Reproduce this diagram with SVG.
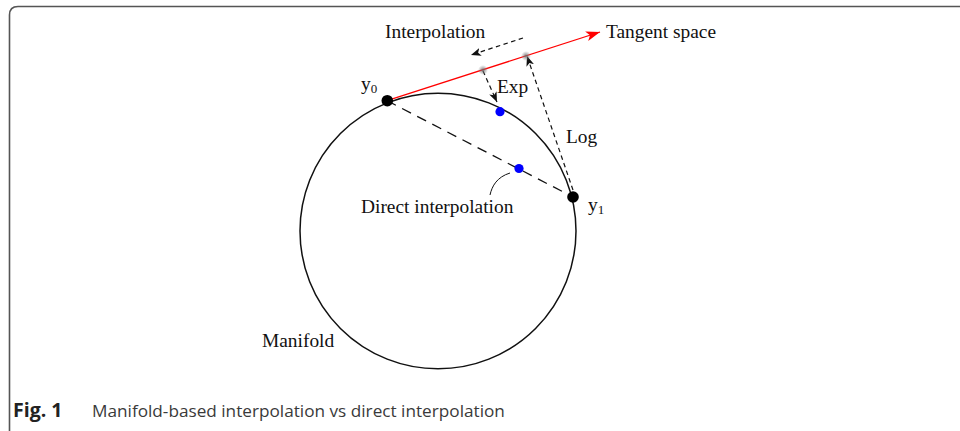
<svg xmlns="http://www.w3.org/2000/svg" width="960" height="431" viewBox="0 0 960 431">
<defs>
<style>
.lbl{font-family:"Liberation Serif","DejaVu Serif",serif;font-size:19.4px;fill:#111}
.sub{font-size:13px}
.dash{fill:none;stroke:#111;stroke-width:1.2;stroke-dasharray:4.5 3.5}
.cap{font-family:"Open Sans","Noto Sans",sans-serif;font-size:17.2px;fill:#3a3a3a}
</style>
<marker id="ah" markerUnits="userSpaceOnUse" markerWidth="12" markerHeight="10" refX="10" refY="4" orient="auto">
<path d="M0,0 L10,4 L0,8 L2.5,4 Z" fill="#111"/>
</marker>
<marker id="ahr" markerUnits="userSpaceOnUse" markerWidth="16" markerHeight="12" refX="14" refY="5" orient="auto">
<path d="M0,0 L14,5 L0,10 L3.5,5 Z" fill="#f00"/>
</marker>
<radialGradient id="spot">
<stop offset="0" stop-color="#666" stop-opacity="0.9"/>
<stop offset="1" stop-color="#888" stop-opacity="0"/>
</radialGradient>
</defs>
<rect width="960" height="431" fill="#fff"/>
<path d="M9.5,431 L9.5,15 Q9.5,6.5 18,6.5 L960,6.5" fill="none" stroke="#555" stroke-width="1.6"/>

<g id="manifold">
<ellipse cx="438" cy="231" rx="138" ry="137.8" fill="none" stroke="#111" stroke-width="1.5"/>
<text class="lbl" x="262" y="347">Manifold</text>
</g>

<g id="connectors">
<line x1="387" y1="100.7" x2="573" y2="197" stroke="#111" stroke-width="1.3" stroke-dasharray="10 7"/>
<line x1="387" y1="100.7" x2="600" y2="32" stroke="#f00" stroke-width="1.3" marker-end="url(#ahr)"/>
<line class="dash" x1="523" y1="38" x2="471" y2="55" marker-end="url(#ah)"/>
<line class="dash" x1="483" y1="71" x2="497" y2="102" marker-end="url(#ah)"/>
<line class="dash" x1="573" y1="190" x2="527" y2="56" marker-end="url(#ah)"/>
<path d="M510,173 C497,177 492,186 490,195" fill="none" stroke="#111" stroke-width="1"/>
<circle cx="483" cy="70" r="5" fill="url(#spot)"/>
<circle cx="526" cy="56" r="5" fill="url(#spot)"/>
</g>

<g id="y0">
<circle cx="387.3" cy="100.7" r="5.8" fill="#000"/>
<text class="lbl" x="361" y="90">y<tspan class="sub" dy="3">0</tspan></text>
</g>
<g id="y1">
<circle cx="573" cy="197" r="5.8" fill="#000"/>
<text class="lbl" x="588" y="211">y<tspan class="sub" dy="3">1</tspan></text>
</g>
<g id="exp-point">
<circle cx="500" cy="111.7" r="4.6" fill="#00f"/>
<text class="lbl" x="497" y="93">Exp</text>
</g>
<g id="direct-point">
<circle cx="519" cy="168.5" r="4.6" fill="#00f"/>
<text class="lbl" x="361" y="213">Direct interpolation</text>
</g>
<g id="labels">
<text class="lbl" x="385" y="38">Interpolation</text>
<text class="lbl" x="606" y="38">Tangent space</text>
<text class="lbl" x="566" y="143">Log</text>
</g>

<g id="caption">
<text class="cap" x="13" y="417"><tspan font-weight="bold" font-size="19.5" fill="#222">Fig. 1</tspan><tspan x="92">Manifold-based interpolation vs direct interpolation</tspan></text>
</g>
</svg>
